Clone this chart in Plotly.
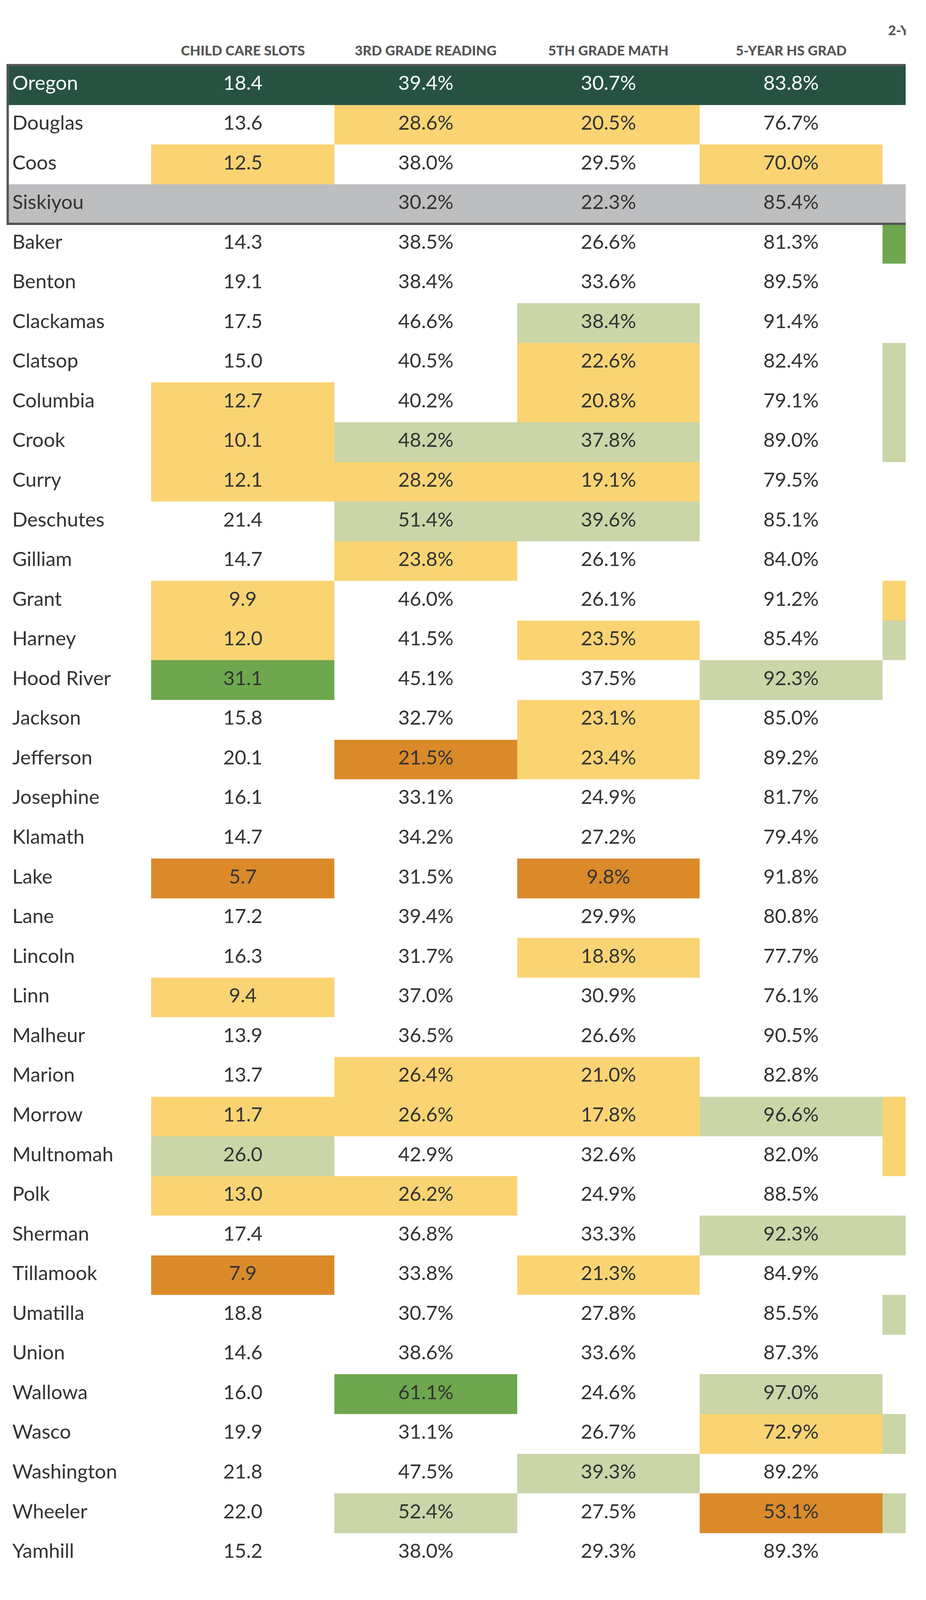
import plotly.graph_objects as go

counties = ["Oregon", "Douglas", "Coos", "Siskiyou", "Baker", "Benton", "Clackamas", "Clatsop",
            "Columbia", "Crook", "Curry", "Deschutes", "Gilliam", "Grant", "Harney", "Hood River",
            "Jackson", "Jefferson", "Josephine", "Klamath", "Lake", "Lane", "Lincoln", "Linn",
            "Malheur", "Marion", "Morrow", "Multnomah", "Polk", "Sherman", "Tillamook", "Umatilla",
            "Union", "Wallowa", "Wasco", "Washington", "Wheeler", "Yamhill"]

headers = ["CHILD CARE SLOTS", "3RD GRADE READING", "5TH GRADE MATH", "5-YEAR HS GRAD"]

child_care = [18.4, 13.6, 12.5, None, 14.3, 19.1, 17.5, 15.0, 12.7, 10.1, 12.1, 21.4, 14.7, 9.9,
              12.0, 31.1, 15.8, 20.1, 16.1, 14.7, 5.7, 17.2, 16.3, 9.4, 13.9, 13.7, 11.7, 26.0,
              13.0, 17.4, 7.9, 18.8, 14.6, 16.0, 19.9, 21.8, 22.0, 15.2]
reading = [39.4, 28.6, 38.0, 30.2, 38.5, 38.4, 46.6, 40.5, 40.2, 48.2, 28.2, 51.4, 23.8, 46.0,
           41.5, 45.1, 32.7, 21.5, 33.1, 34.2, 31.5, 39.4, 31.7, 37.0, 36.5, 26.4, 26.6, 42.9,
           26.2, 36.8, 33.8, 30.7, 38.6, 61.1, 31.1, 47.5, 52.4, 38.0]
math = [30.7, 20.5, 29.5, 22.3, 26.6, 33.6, 38.4, 22.6, 20.8, 37.8, 19.1, 39.6, 26.1, 26.1,
        23.5, 37.5, 23.1, 23.4, 24.9, 27.2, 9.8, 29.9, 18.8, 30.9, 26.6, 21.0, 17.8, 32.6,
        24.9, 33.3, 21.3, 27.8, 33.6, 24.6, 26.7, 39.3, 27.5, 29.3]
hs_grad = [83.8, 76.7, 70.0, 85.4, 81.3, 89.5, 91.4, 82.4, 79.1, 89.0, 79.5, 85.1, 84.0, 91.2,
           85.4, 92.3, 85.0, 89.2, 81.7, 79.4, 91.8, 80.8, 77.7, 76.1, 90.5, 82.8, 96.6, 82.0,
           88.5, 92.3, 84.9, 85.5, 87.3, 97.0, 72.9, 89.2, 53.1, 89.3]

# highlight class per cell: Y yellow, L light green, G green, O orange
flags_child = {"Coos": "Y", "Columbia": "Y", "Crook": "Y", "Curry": "Y", "Grant": "Y", "Harney": "Y",
               "Hood River": "G", "Lake": "O", "Linn": "Y", "Morrow": "Y", "Multnomah": "L",
               "Polk": "Y", "Tillamook": "O"}
flags_reading = {"Douglas": "Y", "Crook": "L", "Curry": "Y", "Deschutes": "L", "Gilliam": "Y",
                 "Jefferson": "O", "Marion": "Y", "Morrow": "Y", "Polk": "Y", "Wallowa": "G",
                 "Wheeler": "L"}
flags_math = {"Douglas": "Y", "Clackamas": "L", "Clatsop": "Y", "Columbia": "Y", "Crook": "L",
              "Curry": "Y", "Deschutes": "L", "Harney": "Y", "Jackson": "Y", "Jefferson": "Y",
              "Lake": "O", "Lincoln": "Y", "Marion": "Y", "Morrow": "Y", "Tillamook": "Y",
              "Washington": "L"}
flags_grad = {"Coos": "Y", "Hood River": "L", "Morrow": "L", "Sherman": "L", "Wallowa": "L",
              "Wasco": "Y", "Wheeler": "O"}
flags_next = {"Baker": "G", "Clatsop": "L", "Columbia": "L", "Crook": "L", "Grant": "Y",
              "Harney": "L", "Morrow": "Y", "Multnomah": "Y", "Sherman": "L", "Umatilla": "L",
              "Wasco": "L", "Wheeler": "L"}

code = {"": 0, "Y": 1, "L": 2, "G": 3, "O": 4}
palette = ["#FFFFFF", "#FAD473", "#CAD5A8", "#6EA74E", "#DB8A2A", "#275242", "#BDBEC0"]

# page is rendered slightly enlarged; shrink the figure to compensate
k = 1.026
W, H = round(2370 / k), round(4200 / k)

col_edges = [20, 397, 878, 1358, 1837, 2317, 2796]
row_top, row_h = 171, 104.2
row_edges = [row_top + i * row_h for i in range(len(counties) + 1)]

z = []
for name in counties:
    if name == "Oregon":
        z.append([5] * 6)
    elif name == "Siskiyou":
        z.append([6] * 6)
    else:
        z.append([0] + [code[f.get(name, "")] for f in
                        (flags_child, flags_reading, flags_math, flags_grad, flags_next)])

n = len(palette)
cscale = []
for i, c in enumerate(palette):
    cscale.append([i / n, c])
    cscale.append([(i + 1) / n, c])

fig = go.Figure()
fig.add_trace(go.Heatmap(z=z, x=col_edges, y=row_edges, zmin=0, zmax=n, colorscale=cscale,
                         showscale=False, hoverinfo="skip"))

centers = [(row_edges[i] + row_edges[i + 1]) / 2 for i in range(len(counties))]
txt_col = ["#FFFFFF" if c == "Oregon" else "#333333" for c in counties]
fnt = "Lato, Open Sans, sans-serif"
fs = 51

fig.add_trace(go.Scatter(x=[32] * len(counties), y=centers, text=counties, mode="text",
                         textposition="middle right", hoverinfo="skip",
                         textfont=dict(size=fs, color=txt_col, family=fnt)))

columns = [
    ([("" if v is None else f"{v:.1f}") for v in child_care]),
    ([f"{v:.1f}%" for v in reading]),
    ([f"{v:.1f}%" for v in math]),
    ([f"{v:.1f}%" for v in hs_grad]),
]
for j, labels in enumerate(columns):
    xc = (col_edges[j + 1] + col_edges[j + 2]) / 2
    fig.add_trace(go.Scatter(x=[xc] * len(labels), y=centers, text=labels, mode="text",
                             textposition="middle center", hoverinfo="skip",
                             textfont=dict(size=fs, color=txt_col, family=fnt)))

for j, h in enumerate(headers):
    xc = (col_edges[j + 1] + col_edges[j + 2]) / 2
    fig.add_annotation(x=xc, y=131, text=h, showarrow=False, xref="x", yref="y",
                       font=dict(size=35, color="#555555", family=fnt, weight=900))
fig.add_annotation(x=2330, y=78, text="2-YEAR", showarrow=False, xanchor="left",
                   xref="x", yref="y", font=dict(size=35, color="#555555", family=fnt, weight=900))

# frame around state / region rows
fig.add_shape(type="rect", x0=col_edges[0], x1=2500, y0=row_edges[0], y1=row_edges[4],
              line=dict(color="#555555", width=6), xref="x", yref="y")

fig.update_xaxes(range=[8, 8 + W * k], visible=False)
fig.update_yaxes(range=[8 + H * k, 8], visible=False)
fig.update_layout(width=W, height=H, margin=dict(l=0, r=0, t=0, b=0),
                  plot_bgcolor="white", paper_bgcolor="white", showlegend=False)
fig.write_html("out.html")
